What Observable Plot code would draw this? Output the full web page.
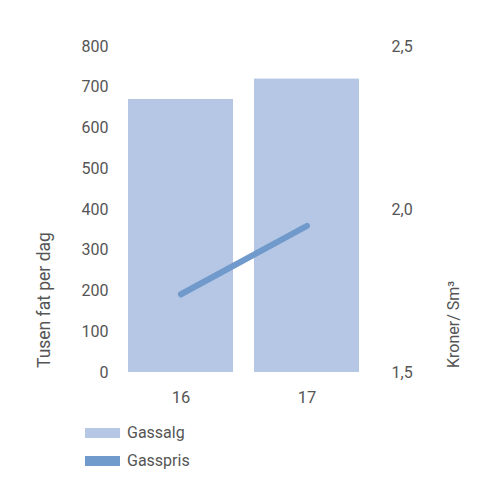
<!DOCTYPE html>
<html><head><meta charset="utf-8">
<script src="https://cdn.jsdelivr.net/npm/d3@7"></script>
<script src="https://cdn.jsdelivr.net/npm/@observablehq/plot@0.6"></script>
<style>
body{margin:0;background:#fff;font-family:Roboto,"DejaVu Sans",sans-serif;color:#555;}
#legend{position:relative;height:85px;}
.item{position:absolute;left:85px;display:flex;align-items:center;font-size:16px;color:#555;}
.sw{width:35px;height:10px;margin-right:7px;}
</style></head>
<body>
<div id="chart"></div>
<div id="legend"></div>
<script>
const years = ["16", "17"];
const gassalg = [670, 720];
const gasspris = [1.74, 1.95];
const leftTicks = [0, 100, 200, 300, 400, 500, 600, 700, 800];
const rightTicks = [1.5, 2.0, 2.5];
const rightTickLabels = ["1,5", "2,0", "2,5"];
const seriesNames = ["Gassalg", "Gasspris"];
const colors = ["#b5c7e4", "#6f9acb"];
const leftTitle = "Tusen fat per dag";
const rightTitle = "Kroner/ Sm³";

const priceToY = p => (p - 1.5) * 800;
const bars = years.map((y, i) => ({year: y, value: gassalg[i]}));
const line = years.map((y, i) => ({year: y, value: priceToY(gasspris[i])}));

const W = 500, H = 415, mt = 46, mb = 43, ml = 128, mr = 141;
const plot = Plot.plot({
  width: W, height: H,
  marginTop: mt, marginBottom: mb, marginLeft: ml, marginRight: mr,
  style: {fontFamily: "Roboto, 'DejaVu Sans', sans-serif", fontSize: "16px", color: "#555", background: "#fff"},
  x: {domain: years, paddingInner: 0.167, paddingOuter: 0, label: null},
  y: {domain: [0, 800], label: null},
  marks: [
    Plot.barY(bars, {x: "year", y: "value", fill: colors[0]}),
    Plot.lineY(line, {x: "year", y: "value", stroke: colors[1], strokeWidth: 6, strokeLinecap: "round"}),
    Plot.axisX({tickSize: 0, tickPadding: 19, label: null, fontSize: 16.5}),
    Plot.axisY({anchor: "left", ticks: leftTicks, tickSize: 0, tickPadding: 20, label: null, fontSize: 16}),
    Plot.axisY({anchor: "right", ticks: rightTicks.map(priceToY), tickSize: 0, tickPadding: 32, label: null, fontSize: 16,
      tickFormat: v => rightTickLabels[rightTicks.map(priceToY).indexOf(v)]})
  ]
});
document.getElementById("chart").appendChild(plot);

const svg = d3.select(plot);
svg.append("text").attr("transform", "translate(50,368) rotate(-90)")
  .attr("text-anchor", "start").attr("fill", "#555").attr("font-size", 17.5).text(leftTitle);
svg.append("text").attr("transform", "translate(459,368) rotate(-90)")
  .attr("text-anchor", "start").attr("fill", "#555").attr("font-size", 16).text(rightTitle);

const leg = d3.select("#legend");
seriesNames.forEach((n, i) => {
  const it = leg.append("div").attr("class", "item").style("top", (8 + i * 28) + "px");
  it.append("div").attr("class", "sw").style("background", colors[i]);
  it.append("span").text(n);
});
</script>
</body></html>
